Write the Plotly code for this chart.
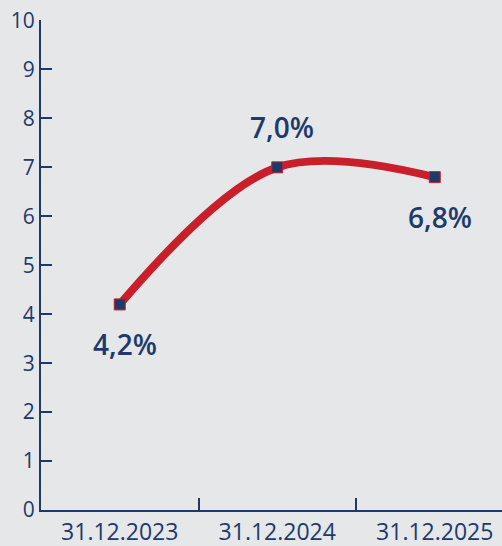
import plotly.graph_objects as go

categories = ["31.12.2023", "31.12.2024", "31.12.2025"]
values = [4.2, 7.0, 6.8]
labels = ["4,2%", "7,0%", "6,8%"]
label_side = [-1, 1, -1]  # -1 below, +1 above
y_ticks = list(range(0, 11))

NAVY = "#1d3a6b"
RED = "#c81f2b"
BG = "#e6e7e9"

fig = go.Figure()
fig.add_trace(go.Scatter(
    x=categories, y=values, mode="lines+markers",
    line=dict(color=RED, width=8, shape="spline", smoothing=1.0),
    marker=dict(symbol="square", size=11, color=NAVY, line=dict(color=RED, width=1)),
    hoverinfo="skip", showlegend=False,
))

for c, v, t, s in zip(categories, values, labels, label_side):
    fig.add_annotation(
        x=c, y=v, text=t, showarrow=False,
        xshift=5, yshift=40 * s,
        font=dict(family="Open Sans", size=28, color=NAVY, weight=600),
    )

fig.update_layout(
    width=502, height=546,
    margin=dict(l=41, r=0, t=20, b=36),
    paper_bgcolor=BG, plot_bgcolor=BG,
    font=dict(family="Open Sans", color=NAVY),
)
fig.update_xaxes(
    type="category", range=[-0.5, 2.427], automargin=False,
    showline=True, linecolor=NAVY, linewidth=2,
    ticks="inside", ticklen=12, tickwidth=2, tickcolor=NAVY,
    tickson="boundaries", showgrid=False, zeroline=False,
    ticklabeloverflow="allow",
    tickfont=dict(size=23, color=NAVY),
)
fig.update_yaxes(
    range=[0, 10.01], tickvals=y_ticks, automargin=False,
    showline=True, linecolor=NAVY, linewidth=2,
    ticks="inside", ticklen=11, tickwidth=2, tickcolor=NAVY,
    showgrid=False, zeroline=False,
    ticklabeloverflow="allow",
    tickfont=dict(size=21, color=NAVY),
)

fig.write_html(
    "out.html",
    config={"displayModeBar": False},
    post_script="document.body.style.margin='0';document.body.style.background='%s';" % BG,
)
